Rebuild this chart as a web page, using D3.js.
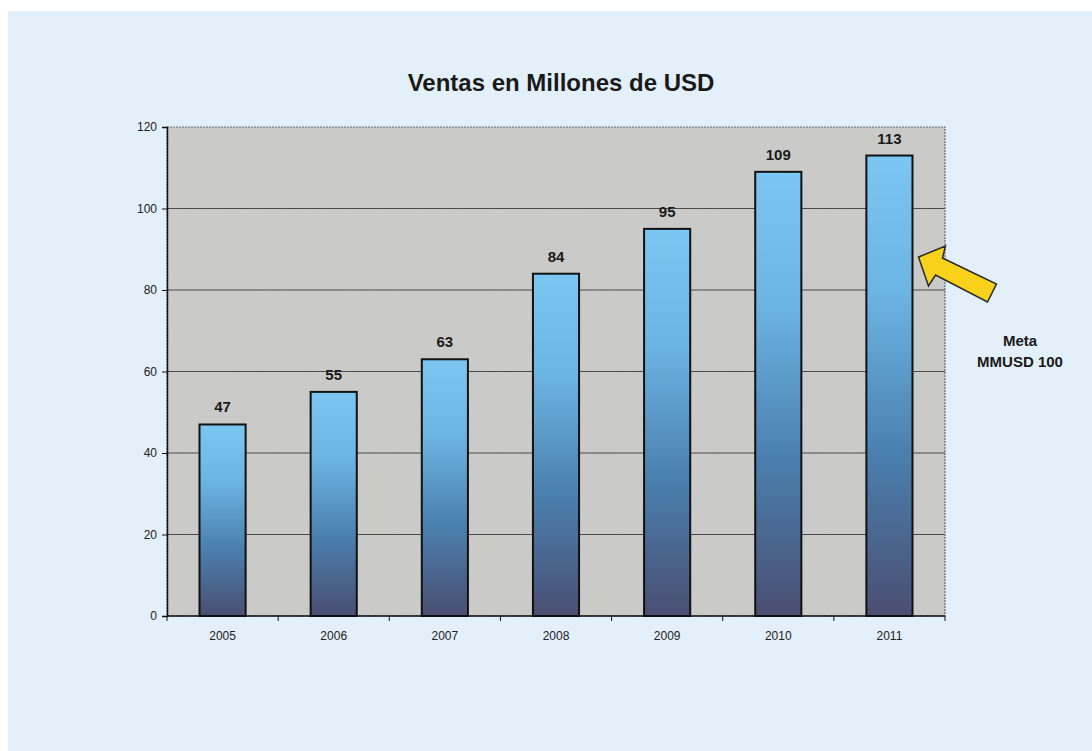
<!DOCTYPE html>
<html>
<head>
<meta charset="utf-8">
<script src="https://cdn.jsdelivr.net/npm/d3@7"></script>
<style>
  body { margin: 0; background: #fff; }
  svg { display: block; font-family: "Liberation Sans", Arial, sans-serif; }
</style>
</head>
<body>
<div id="chartDiv"></div>
<script>
var width = 1092;
var height = 751;

// data
var years = ["2005", "2006", "2007", "2008", "2009", "2010", "2011"];
var ventas = [47, 55, 63, 84, 95, 109, 113];
var yTicks = [0, 20, 40, 60, 80, 100, 120];
var titulo = "Ventas en Millones de USD";
var metaLines = ["Meta", "MMUSD 100"];

var margin = {top: 127, right: 147, bottom: 135, left: 167};

var svg = d3.select("#chartDiv")
    .append("svg")
    .attr("width", width)
    .attr("height", height);

var defs = svg.append("defs");

var grad = defs.append("linearGradient")
    .attr("id", "barGrad")
    .attr("x1", 0).attr("y1", 0).attr("x2", 0).attr("y2", 1);
grad.append("stop").attr("offset", "0%").attr("stop-color", "#7cc6f2");
grad.append("stop").attr("offset", "30%").attr("stop-color", "#6cb4e2");
grad.append("stop").attr("offset", "65%").attr("stop-color", "#4a7fae");
grad.append("stop").attr("offset", "100%").attr("stop-color", "#4a4e72");

// grainy paper look for the plot area
var noise = defs.append("filter").attr("id", "grain")
    .attr("x", 0).attr("y", 0).attr("width", 1).attr("height", 1);
noise.append("feTurbulence")
    .attr("type", "fractalNoise")
    .attr("baseFrequency", 1.2)
    .attr("numOctaves", 1)
    .attr("result", "n");
noise.append("feColorMatrix")
    .attr("type", "matrix")
    .attr("values", "0 0 0 0 0.55  0 0 0 0 0.55  0 0 0 0 0.55  0 0 0 0.35 -0.05");
noise.append("feComposite").attr("in2", "SourceGraphic").attr("operator", "in");

// page background (scanned light blue)
svg.append("rect")
    .attr("x", 8).attr("y", 11)
    .attr("width", width - 8).attr("height", height - 11)
    .attr("fill", "#e3eff9");

var x = d3.scaleBand()
    .domain(years)
    .range([margin.left, width - margin.right])
    .paddingInner(0.585)
    .paddingOuter(0.2925);

var y = d3.scaleLinear()
    .domain([0, 120])
    .range([height - margin.bottom, margin.top]);

var plotW = width - margin.right - margin.left;
var plotH = height - margin.bottom - margin.top;

// plot area
svg.append("rect")
    .attr("x", margin.left).attr("y", margin.top)
    .attr("width", plotW).attr("height", plotH)
    .attr("fill", "#cbcbc9");
svg.append("rect")
    .attr("x", margin.left).attr("y", margin.top)
    .attr("width", plotW).attr("height", plotH)
    .attr("fill", "#ffffff")
    .attr("filter", "url(#grain)");
svg.append("rect")
    .attr("x", margin.left).attr("y", margin.top)
    .attr("width", plotW).attr("height", plotH)
    .attr("fill", "none")
    .attr("stroke", "#6a6a6a")
    .attr("stroke-width", 1.2)
    .attr("stroke-dasharray", "2,1");

// gridlines
svg.append("g")
    .selectAll("line")
    .data(yTicks.filter(d => d > 0 && d < 120))
    .join("line")
        .attr("x1", margin.left).attr("x2", width - margin.right)
        .attr("y1", d => y(d)).attr("y2", d => y(d))
        .attr("stroke", "#4a4a4a")
        .attr("stroke-width", 1);

// bars
svg.append("g")
    .selectAll("rect")
    .data(ventas)
    .join("rect")
        .attr("x", (d, i) => x(years[i]))
        .attr("y", d => y(d))
        .attr("width", x.bandwidth())
        .attr("height", d => y(0) - y(d))
        .attr("fill", "url(#barGrad)")
        .attr("stroke", "#111")
        .attr("stroke-width", 2);

// value labels
svg.append("g")
    .selectAll("text")
    .data(ventas)
    .join("text")
        .attr("x", (d, i) => x(years[i]) + x.bandwidth() / 2)
        .attr("y", d => y(d) - 12)
        .attr("text-anchor", "middle")
        .attr("font-size", 15)
        .attr("font-weight", "bold")
        .attr("fill", "#1a1a1a")
        .text(d => d);

// y axis
var yAxis = svg.append("g")
    .attr("transform", `translate(${margin.left},0)`)
    .call(d3.axisLeft(y).tickValues(yTicks).tickSize(5).tickPadding(5));
yAxis.select(".domain").attr("stroke", "#111").attr("stroke-width", 1.5);
yAxis.selectAll(".tick line").attr("stroke", "#111");
yAxis.selectAll("text").attr("font-size", 12).attr("fill", "#222")
    .attr("font-family", "Liberation Sans, Arial, sans-serif");

// x axis, ticks at band edges like Excel
var xAxis = svg.append("g")
    .attr("transform", `translate(0,${y(0)})`);
xAxis.append("line")
    .attr("x1", margin.left).attr("x2", width - margin.right)
    .attr("stroke", "#111").attr("stroke-width", 1.5);
var edges = d3.range(years.length + 1).map(i => margin.left + i * plotW / years.length);
xAxis.selectAll(".edge")
    .data(edges)
    .join("line")
        .attr("class", "edge")
        .attr("x1", d => d).attr("x2", d => d)
        .attr("y1", 0).attr("y2", 5)
        .attr("stroke", "#111");
xAxis.selectAll("text")
    .data(years)
    .join("text")
        .attr("x", d => x(d) + x.bandwidth() / 2)
        .attr("y", 24)
        .attr("text-anchor", "middle")
        .attr("font-size", 12)
        .attr("fill", "#222")
        .text(d => d);

// title
svg.append("text")
    .attr("x", 561)
    .attr("y", 91)
    .attr("text-anchor", "middle")
    .attr("font-size", 24)
    .attr("font-weight", "bold")
    .attr("fill", "#1a1a1a")
    .text(titulo);

// yellow arrow pointing at the 2011 bar
var lastX = x(years[years.length - 1]) + x.bandwidth();
var tip = [lastX + 6, 257];
var arrowPts = [
    [0, 0], [27, -11], [24, 1], [78, 27], [69, 45], [17, 18], [10, 29]
].map(p => [tip[0] + p[0], tip[1] + p[1]]);
svg.append("path")
    .attr("d", d3.line()(arrowPts) + "Z")
    .attr("fill", "#f7d11a")
    .attr("stroke", "#2a2a2a")
    .attr("stroke-width", 1.5)
    .attr("stroke-linejoin", "miter");

// meta label
svg.append("g")
    .selectAll("text")
    .data(metaLines)
    .join("text")
        .attr("x", 1020)
        .attr("y", (d, i) => 346 + i * 21)
        .attr("text-anchor", "middle")
        .attr("font-size", 15)
        .attr("font-weight", "bold")
        .attr("fill", "#1a1a1a")
        .text(d => d);
</script>
</body>
</html>
